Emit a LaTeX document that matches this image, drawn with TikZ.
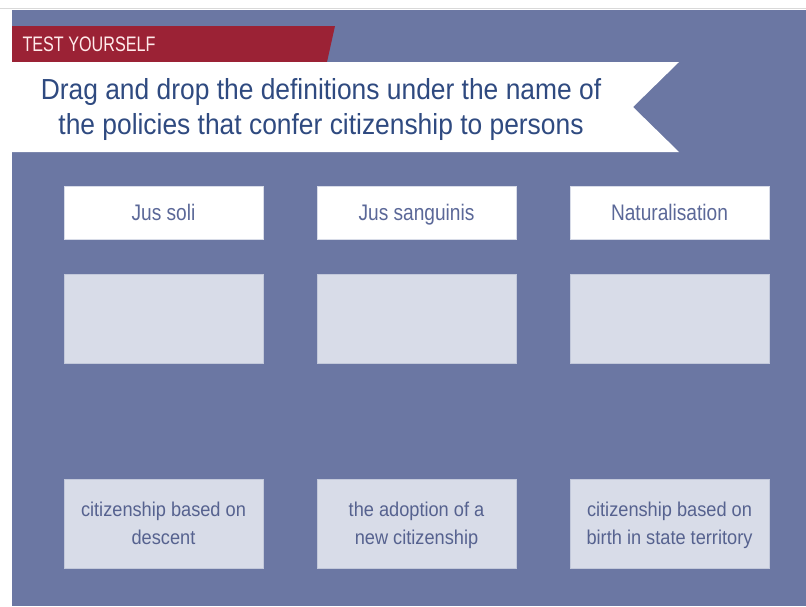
\documentclass[tikz,border=0pt]{standalone}
\usepackage{fontspec}
\setmainfont{Liberation Sans}
\newfontfamily\condfont[FakeStretch=0.91]{Liberation Sans}
\newfontfamily\namefont[FakeStretch=0.85]{Liberation Sans}
\newfontfamily\tagfont[FakeStretch=0.77]{Liberation Sans}
\usetikzlibrary{positioning}

\definecolor{panelblue}{HTML}{6B77A3}
\definecolor{testred}{HTML}{9B2235}
\definecolor{titleblue}{HTML}{2F4A80}
\definecolor{namecol}{HTML}{5B6898}
\definecolor{dropgray}{HTML}{D8DCE8}
\definecolor{deftext}{HTML}{56628F}

\tikzset{
  namebox/.style={fill=white, draw=dropgray, line width=0.6pt, minimum width=199pt, minimum height=53pt,
    inner sep=0pt, text height=18pt, text depth=3pt, text=namecol, font=\namefont\fontsize{22.5}{26}\selectfont},
  dropbox/.style={fill=dropgray, draw=dropgray!80!panelblue, line width=0.6pt, minimum width=199pt, minimum height=89pt, inner sep=0pt},
  defbox/.style={dropbox, text=deftext, align=center, text height=43pt, text depth=2pt,
    font=\condfont\fontsize{20}{28}\selectfont}
}

\begin{document}
\begin{tikzpicture}[x=1pt, y=-1pt]
\useasboundingbox (0,0) rectangle (806,606);
\fill[white] (0,0) rectangle (806,606);
\fill[panelblue] (12,10) rectangle (806,606);
\draw[black!15, line width=1.5pt] (0,8.5) -- (806,8.5);

% banner
\fill[testred] (12,26) -- (335,26) -- (327,62) -- (12,62) -- cycle;
\node[anchor=west, text=red!8, font=\tagfont\fontsize{21}{24}\selectfont] (test) at (19,44) {TEST YOURSELF};
\fill[white] (12,62) -- (679,62) -- (633,107) -- (679,152) -- (12,152) -- cycle;
\node[align=center, text=titleblue, font=\condfont\fontsize{29}{35}\selectfont] (title) at (321,109)
  {Drag and drop the definitions under the name of\\the policies that confer citizenship to persons};

% columns
\node[namebox] (soli) at (163.5,212.5) {Jus soli};
\node[namebox] (sanguinis) at (416.5,212.5) {Jus sanguinis};
\node[namebox] (natural) at (669.5,212.5) {Naturalisation};

\node[dropbox, below=35pt of soli] (drop1) {};
\node[dropbox, below=35pt of sanguinis] (drop2) {};
\node[dropbox, below=35pt of natural] (drop3) {};

\node[defbox] (descent) at (163.5,523.5) {citizenship based on\\descent};
\node[defbox] (adoption) at (416.5,523.5) {the adoption of a\\new citizenship};
\node[defbox] (birth) at (669.5,523.5) {citizenship based on\\birth in state territory};
\end{tikzpicture}
\end{document}
